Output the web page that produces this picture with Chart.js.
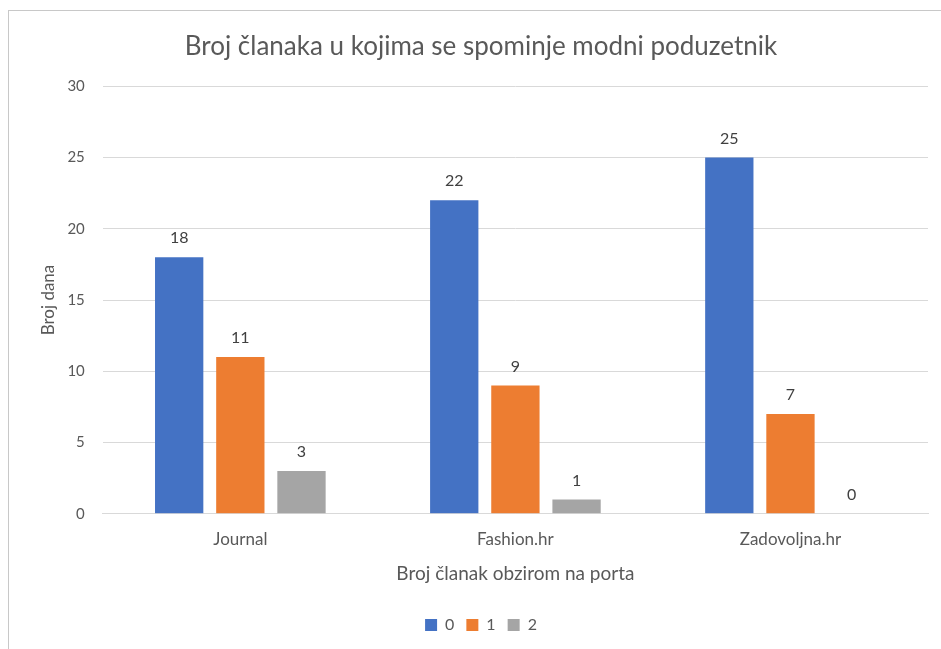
<!DOCTYPE html>
<html>
<head>
<meta charset="utf-8">
<script src="https://cdn.jsdelivr.net/npm/chart.js@4.4.1/dist/chart.umd.min.js"></script>
<style>
  html, body { margin: 0; padding: 0; background: #fff; }
  body { width: 941px; height: 649px; position: relative; overflow: hidden; }
  #frame { position: absolute; left: 8px; top: 10px; width: 960px; height: 700px;
           border: 1px solid #c8c8c8; box-sizing: border-box; }
  #wrap { position: absolute; left: 0; top: 0; width: 941px; height: 649px; }
</style>
</head>
<body>
<div id="frame"></div>
<div id="wrap"><canvas id="chart"></canvas></div>
<script>
// podaci
const portals = ['Journal', 'Fashion.hr', 'Zadovoljna.hr'];
const seriesNames = ['0', '1', '2'];
const values0 = [18, 22, 25];
const values1 = [11, 9, 7];
const values2 = [3, 1, 0];
const yTicks = [0, 5, 10, 15, 20, 25, 30];

const colors = ['#4472C4', '#ED7D31', '#A5A5A5'];
const textColor = '#595959';
const font = 'Lato, "Open Sans", sans-serif';

// oznake vrijednosti iznad stupaca
const valueLabels = {
  id: 'valueLabels',
  afterDatasetsDraw(chart) {
    const ctx = chart.ctx;
    ctx.save();
    ctx.font = '16px ' + font;
    ctx.fillStyle = '#404040';
    ctx.textAlign = 'center';
    ctx.textBaseline = 'bottom';
    chart.data.datasets.forEach((ds, i) => {
      chart.getDatasetMeta(i).data.forEach((bar, j) => {
        ctx.fillText(ds.data[j], bar.x, bar.y - 11);
      });
    });
    ctx.restore();
  }
};

new Chart(document.getElementById('chart'), {
  type: 'bar',
  data: {
    labels: portals,
    datasets: [values0, values1, values2].map((d, i) => ({
      label: seriesNames[i],
      data: d,
      backgroundColor: colors[i],
      categoryPercentage: 0.667,
      barPercentage: 0.79
    }))
  },
  options: {
    responsive: true,
    maintainAspectRatio: false,
    animation: false,
    layout: { padding: { left: 34, right: 13, top: 21, bottom: 6 } },
    plugins: {
      title: {
        display: true,
        text: 'Broj članaka u kojima se spominje modni poduzetnik',
        color: textColor,
        font: { family: font, size: 26, weight: 'normal' },
        padding: { top: 10, bottom: 24 }
      },
      legend: {
        position: 'bottom',
        labels: {
          color: textColor,
          font: { family: font, size: 16 },
          boxWidth: 12, boxHeight: 12,
          padding: 12
        }
      },
      tooltip: { enabled: false }
    },
    scales: {
      x: {
        grid: { display: false },
        border: { color: '#d9d9d9' },
        ticks: { color: textColor, font: { family: font, size: 17 }, padding: 8 },
        title: {
          display: true, text: 'Broj članak obzirom na porta',
          color: textColor, font: { family: font, size: 19 }, padding: { top: 4, bottom: 20 }
        }
      },
      y: {
        min: 0, max: 30,
        afterBuildTicks(axis) { axis.ticks = yTicks.map(v => ({ value: v })); },
        grid: { color: '#d9d9d9', drawTicks: false },
        border: { display: false },
        ticks: { color: textColor, font: { family: font, size: 15 }, padding: 18 },
        title: {
          display: true, text: 'Broj dana',
          color: textColor, font: { family: font, size: 17 }, padding: { top: 4, bottom: -9 }
        }
      }
    }
  },
  plugins: [valueLabels]
});
</script>
</body>
</html>
